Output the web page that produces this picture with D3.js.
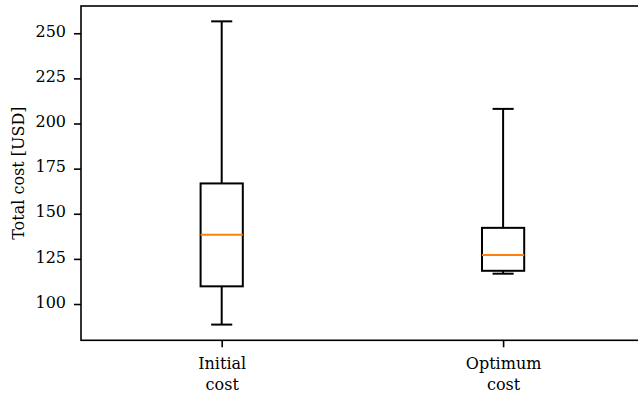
<!DOCTYPE html>
<html>
<head>
<meta charset="utf-8">
<script src="https://cdn.jsdelivr.net/npm/d3@7"></script>
<style>
  html, body { margin: 0; padding: 0; background: #fff; }
  svg { display: block; }
</style>
</head>
<body>
<svg id="chart" width="638" height="396"></svg>
<script>
// Box plot summary statistics per scenario
const categories = [["Initial", "cost"], ["Optimum", "cost"]];
const whiskerLow = [88.6, 116.8];
const q1 = [109.8, 118.4];
const median = [138.4, 127.1];
const q3 = [166.8, 142.2];
const whiskerHigh = [256.6, 208.1];
const yTicks = [100, 125, 150, 175, 200, 225, 250];

const svg = d3.select("#chart");
const plotLeft = 81, plotRight = 643.8, plotTop = 6, plotBottom = 340.3;

const x = d3.scaleLinear().domain([0.5, 2.5]).range([plotLeft, plotRight]);
const y = d3.scaleLinear().domain([79.9, 265.1]).range([plotBottom, plotTop]);

const boxW = 0.15, capW = 0.075;
const fontSize = 16;
const serif = "'DejaVu Serif', serif";

// Y axis
const yAxis = d3.axisLeft(y).tickValues(yTicks).tickSize(7).tickPadding(8).tickFormat(d3.format("d"));
const gy = svg.append("g").attr("transform", `translate(${plotLeft},0)`).call(yAxis)
  .attr("font-family", serif).attr("font-size", fontSize);
gy.select(".domain").remove();
gy.selectAll(".tick line").attr("stroke", "#000").attr("stroke-width", 1.6);
gy.selectAll(".tick text").attr("fill", "#000").attr("dy", "0.2em");

// X axis
const xAxis = d3.axisBottom(x).tickValues([1, 2]).tickSize(7).tickFormat("");
const gx = svg.append("g").attr("transform", `translate(0,${plotBottom})`).call(xAxis)
  .attr("font-family", serif).attr("font-size", fontSize);
gx.select(".domain").remove();
gx.selectAll(".tick line").attr("stroke", "#000").attr("stroke-width", 1.6);
gx.selectAll(".tick").each(function(d, i) {
  const t = d3.select(this).append("text")
    .attr("text-anchor", "middle")
    .attr("fill", "#000");
  categories[i].forEach((s, k) => {
    t.append("tspan").attr("x", 0).attr("y", 29 + k * 21).text(s);
  });
});

// Boxes
const idx = d3.range(categories.length);
const g = svg.append("g");
idx.forEach(i => {
  const cx = i + 1;
  const line = (x1, y1, x2, y2, color) => g.append("line")
    .attr("x1", x(x1)).attr("y1", y(y1)).attr("x2", x(x2)).attr("y2", y(y2))
    .attr("stroke", color || "#000").attr("stroke-width", 2);
  // whiskers
  line(cx, whiskerLow[i], cx, q1[i]);
  line(cx, q3[i], cx, whiskerHigh[i]);
  // caps
  line(cx - capW / 2, whiskerLow[i], cx + capW / 2, whiskerLow[i]);
  line(cx - capW / 2, whiskerHigh[i], cx + capW / 2, whiskerHigh[i]);
  // box
  g.append("rect")
    .attr("x", x(cx - boxW / 2)).attr("y", y(q3[i]))
    .attr("width", x(cx + boxW / 2) - x(cx - boxW / 2))
    .attr("height", y(q1[i]) - y(q3[i]))
    .attr("fill", "none").attr("stroke", "#000").attr("stroke-width", 2);
  // median
  line(cx - boxW / 2, median[i], cx + boxW / 2, median[i], "#ff7f0e");
});

// Spines
const sp = svg.append("g").attr("stroke", "#000").attr("stroke-width", 1.6).attr("fill", "none");
sp.append("rect").attr("x", plotLeft).attr("y", plotTop)
  .attr("width", plotRight - plotLeft).attr("height", plotBottom - plotTop);

// Y axis label
svg.append("text")
  .attr("transform", `translate(24,${(plotTop + plotBottom) / 2}) rotate(-90)`)
  .attr("text-anchor", "middle")
  .attr("font-family", serif)
  .attr("font-size", fontSize)
  .attr("fill", "#000")
  .text("Total cost [USD]");
</script>
</body>
</html>
